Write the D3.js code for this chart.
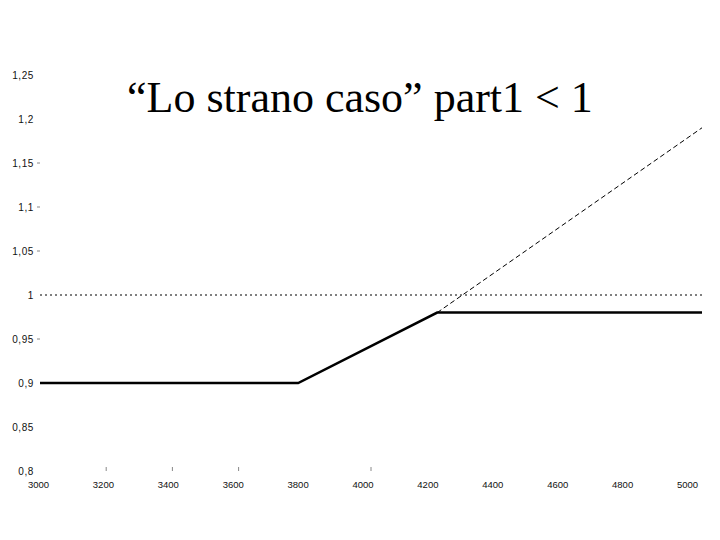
<!DOCTYPE html>
<html>
<head>
<meta charset="utf-8">
<script src="https://cdn.jsdelivr.net/npm/d3@7"></script>
<style>
  body { margin: 0; background: #fff; }
  .tick text { font-family: "Liberation Sans", Arial, sans-serif; fill: #111; }
  .yax .tick text { font-size: 10px; letter-spacing: 0.6px; }
  .xax .tick text { font-size: 9.5px; }
</style>
</head>
<body>
<div id="chart"></div>
<script>
// data
const xTicks = [3000, 3200, 3400, 3600, 3800, 4000, 4200, 4400, 4600, 4800, 5000];
const yTicks = [0.8, 0.85, 0.9, 0.95, 1, 1.05, 1.1, 1.15, 1.2, 1.25];
const yTickMarks = [0.95, 1.05, 1.1, 1.15];
const xTickMarks = [3200, 3400, 3600, 4000];
const solidX = [3000, 3780, 4200, 5000];
const solidY = [0.9, 0.9, 0.98, 0.98];
const dashX = [4200, 5000];
const dashY = [0.98, 1.19];
const refX = [3000, 5000];
const refY = [1, 1];

const width = 720, height = 540;

var svg = d3.select("#chart")
  .append("svg")
    .attr("width", width)
    .attr("height", height);

var x = d3.scaleLinear().domain([3000, 5000]).range([40, 702]);
var y = d3.scaleLinear().domain([0.8, 1.25]).range([471, 75]);

// x labels sit a bit left of the data positions, as in the picture
var xLab = d3.scaleLinear().domain([3000, 5000]).range([38, 687]);

const fmt = d => String(d).replace(".", ",");

// Y axis labels
svg.append("g")
  .attr("class", "yax")
  .attr("transform", "translate(34,0)")
  .call(d3.axisLeft(y).tickValues(yTicks).tickSize(0).tickPadding(0).tickFormat(fmt))
  .call(g => g.select(".domain").remove());

svg.append("g")
  .selectAll("line")
  .data(yTickMarks)
  .enter().append("line")
  .attr("x1", 37).attr("x2", 40)
  .attr("y1", d => y(d)).attr("y2", d => y(d))
  .attr("stroke", "#888")
  .attr("stroke-width", 1);

// X axis labels
svg.append("g")
  .attr("class", "xax")
  .attr("transform", "translate(0,480)")
  .call(d3.axisBottom(xLab).tickValues(xTicks).tickSize(0).tickPadding(1).tickFormat(d3.format("d")))
  .call(g => g.select(".domain").remove());

svg.append("g")
  .selectAll("line")
  .data(xTickMarks)
  .enter().append("line")
  .attr("x1", d => x(d)).attr("x2", d => x(d))
  .attr("y1", 467).attr("y2", 471)
  .attr("stroke", "#888")
  .attr("stroke-width", 1);

var line = d3.line()
  .x(d => x(d[0]))
  .y(d => y(d[1]));

// reference line at 1
svg.append("path")
  .datum(d3.zip(refX, refY))
  .attr("fill", "none")
  .attr("stroke", "#000")
  .attr("stroke-width", 1)
  .attr("stroke-dasharray", "2,3")
  .attr("d", line);

// dashed continuation
svg.append("path")
  .datum(d3.zip(dashX, dashY))
  .attr("fill", "none")
  .attr("stroke", "#000")
  .attr("stroke-width", 1)
  .attr("stroke-dasharray", "5,3")
  .attr("d", line);

// main solid line
svg.append("path")
  .datum(d3.zip(solidX, solidY))
  .attr("fill", "none")
  .attr("stroke", "#000")
  .attr("stroke-width", 2.5)
  .attr("d", line);

// title
svg.append("text")
  .attr("x", 127)
  .attr("y", 112)
  .text("“Lo strano caso” part1 < 1")
  .style("font-family", "'Liberation Serif', 'Times New Roman', serif")
  .style("font-size", "44px")
  .style("fill", "#000");
</script>
</body>
</html>
